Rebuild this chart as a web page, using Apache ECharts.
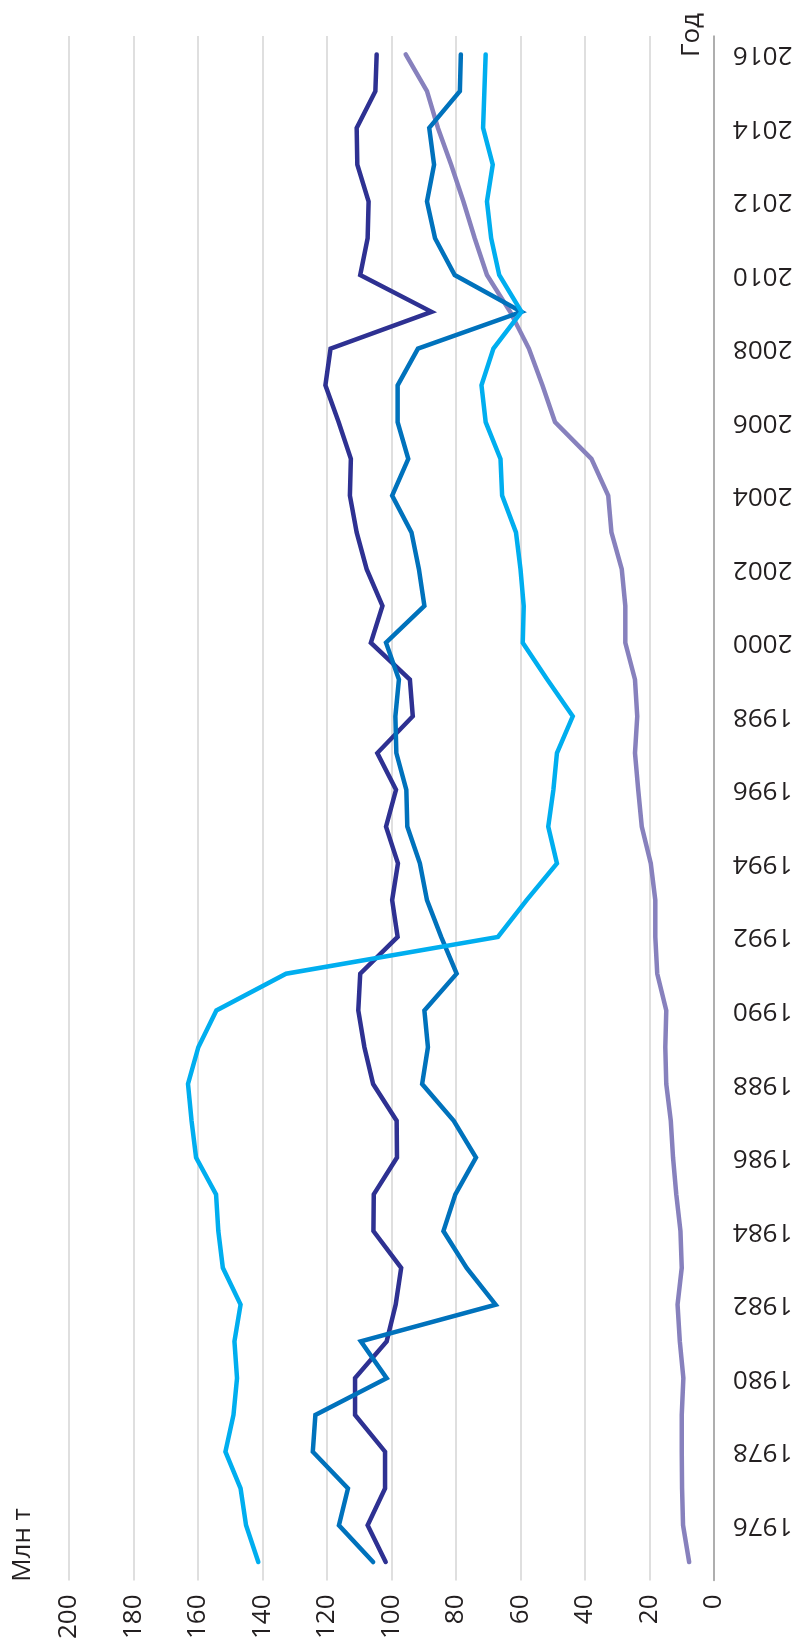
<!DOCTYPE html>
<html>
<head>
<meta charset="utf-8">
<script src="https://cdn.jsdelivr.net/npm/echarts@6/dist/echarts.min.js"></script>
<style>
    html, body { margin: 0; padding: 0; background: #fff; }
    #myChart { width: 799px; height: 1642px; }
</style>
</head>
<body>
<div id="myChart"></div>
<script>
    // годы (снизу вверх)
    var years = ['1975', '1976', '1977', '1978', '1979', '1980', '1981', '1982', '1983', '1984',
        '1985', '1986', '1987', '1988', '1989', '1990', '1991', '1992', '1993', '1994',
        '1995', '1996', '1997', '1998', '1999', '2000', '2001', '2002', '2003', '2004',
        '2005', '2006', '2007', '2008', '2009', '2010', '2011', '2012', '2013', '2014',
        '2015', '2016']

    var valueTicks = [0, 20, 40, 60, 80, 100, 120, 140, 160, 180, 200]

    // млн т
    var navy = [101.8, 107.4, 102.0, 102.0, 111.3, 111.3, 101.5, 98.7, 97.0, 105.6,
        105.5, 98.3, 98.4, 105.7, 108.4, 110.3, 109.7, 98.1, 99.8, 98.0,
        101.7, 98.6, 104.4, 93.4, 94.3, 106.4, 102.8, 107.7, 110.8, 112.9,
        112.6, 116.4, 120.5, 118.9, 87.6, 109.7, 107.4, 107.1, 110.6, 110.8,
        105.0, 104.6]

    var blue = [105.7, 116.3, 113.5, 124.4, 123.6, 101.5, 109.5, 67.7, 76.7, 83.9,
        80.2, 73.8, 80.7, 90.5, 88.7, 89.8, 79.8, 84.6, 89.0, 91.2,
        95.1, 95.4, 98.5, 98.8, 97.7, 101.7, 89.8, 91.5, 93.8, 99.8,
        94.8, 98.1, 98.1, 91.8, 59.7, 80.4, 86.5, 89.0, 86.8, 88.3,
        78.8, 78.5]

    var cyan = [141.3, 145.1, 146.8, 151.5, 149.0, 147.9, 148.7, 146.8, 152.3, 153.7,
        154.4, 160.6, 162.0, 163.1, 159.9, 154.3, 132.7, 67.0, 58.1, 48.7,
        51.4, 49.8, 48.7, 43.8, 51.7, 59.3, 59.0, 60.0, 61.4, 65.7,
        66.2, 70.8, 72.1, 68.4, 59.7, 66.6, 69.1, 70.4, 68.6, 71.6,
        71.2, 70.8]

    var lavender = [7.7, 9.6, 9.9, 10.0, 10.0, 9.5, 10.6, 11.3, 10.0, 10.4,
        11.7, 12.7, 13.4, 14.8, 15.1, 14.8, 17.6, 18.2, 18.2, 19.6,
        22.4, 23.5, 24.5, 23.8, 24.5, 27.5, 27.5, 28.6, 31.8, 32.8,
        38.0, 49.3, 53.2, 57.4, 63.2, 70.4, 74.2, 77.7, 81.5, 85.6,
        89.0, 95.6]

    var font = '"Open Sans", "Noto Sans", sans-serif'

    function line(name, data, color) {
        return {
            name: name,
            type: 'line',
            data: data,
            symbol: 'none',
            color: color,
            lineStyle: { width: 4.5, color: color, cap: 'round', join: 'miter' }
        }
    }

    var chart = echarts.init(document.getElementById('myChart'), null, { renderer: 'canvas' })

    chart.setOption({
        animation: false,
        grid: {
            left: 69,
            right: 85,
            top: 36,
            bottom: 61,
            containLabel: false
        },
        graphic: [
            {
                type: 'text',
                x: 23, y: 1545,
                rotation: Math.PI / 2,
                style: {
                    text: 'Млн т',
                    font: '26px ' + font,
                    fill: '#231f20',
                    align: 'center',
                    verticalAlign: 'middle'
                }
            },
            {
                type: 'text',
                x: 692, y: 35,
                rotation: Math.PI / 2,
                style: {
                    text: 'Год',
                    font: '26px ' + font,
                    fill: '#231f20',
                    align: 'center',
                    verticalAlign: 'middle'
                }
            }
        ],
        xAxis: {
            type: 'value',
            inverse: true,
            min: valueTicks[0],
            max: valueTicks[valueTicks.length - 1],
            interval: valueTicks[1] - valueTicks[0],
            position: 'bottom',
            axisLine: { show: false },
            axisTick: { show: false },
            splitLine: { lineStyle: { color: '#d4d4d4', width: 1.5 } },
            axisLabel: {
                rotate: 90,
                margin: 14,
                fontSize: 26,
                fontFamily: font,
                color: '#231f20'
            }
        },
        yAxis: {
            type: 'category',
            data: years,
            position: 'right',
            boundaryGap: true,
            axisLine: { show: true, lineStyle: { color: '#9e9e9e', width: 1.5 } },
            axisTick: { show: false },
            splitLine: { show: false },
            axisLabel: {
                rotate: 180,
                margin: 19,
                fontSize: 26,
                fontFamily: font,
                color: '#231f20',
                interval: function (index, value) {
                    return Number(value) % 2 === 0
                }
            }
        },
        series: [
            line('Серия 4', lavender, '#8781bd'),
            line('Серия 1', navy, '#2e3192'),
            line('Серия 2', blue, '#0072bc'),
            line('Серия 3', cyan, '#00aeef')
        ]
    })
</script>
</body>
</html>
